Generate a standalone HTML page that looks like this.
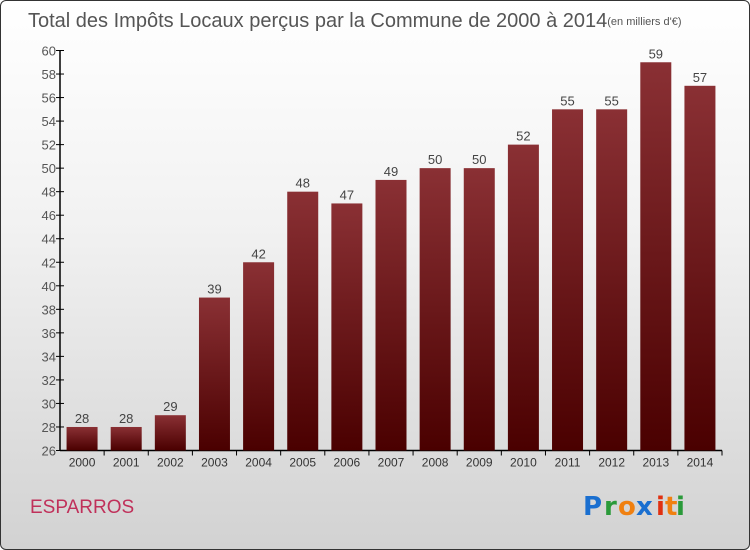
<!DOCTYPE html>
<html><head><meta charset="utf-8"><style>
html,body{margin:0;padding:0}
body{width:750px;height:550px;overflow:hidden;font-family:"Liberation Sans",sans-serif}
#frame{position:absolute;left:0;top:0;width:748px;height:548px;border:1px solid #333;border-radius:6px;background:linear-gradient(#ffffff 0%,#f2f2f2 40%,#d2d2d2 100%)}
</style></head><body>
<div id="frame">
<svg id="chart" width="750" height="550" style="position:absolute;left:-1px;top:-1px">
<defs><linearGradient id="bg" x1="0" y1="0" x2="0" y2="1"><stop offset="0" stop-color="#8a3034"/><stop offset="1" stop-color="#4a0000"/></linearGradient></defs>
<text x="28" y="27" font-size="20" fill="#555">Total des Impôts Locaux perçus par la Commune de 2000 à 2014<tspan font-size="11" dy="-2">(en milliers d'€)</tspan></text>
<text x="30" y="513" font-size="19" fill="#c0305a">ESPARROS</text>
<g font-size="26" font-family="'DejaVu Sans',sans-serif" font-weight="bold">
<text x="583" y="515" fill="#1a6fd0">P</text><text x="604" y="515" fill="#2a9a3a">r</text><text x="618" y="515" fill="#f08010">o</text><text x="636" y="515" fill="#1a6fd0">x</text><text x="656" y="515" fill="#e03010">i</text><text x="665" y="515" fill="#f08010">t</text><text x="676" y="515" fill="#2a9a3a">i</text>
</g>
<g id="axes"></g><g id="bars"></g>
</svg></div>
<script>
const years=["2000","2001","2002","2003","2004","2005","2006","2007","2008","2009","2010","2011","2012","2013","2014"];
const values=[28,28,29,39,42,48,47,49,50,50,52,55,55,59,57];
const yTicks=[26,28,30,32,34,36,38,40,42,44,46,48,50,52,54,56,58,60];
const NS="http://www.w3.org/2000/svg";
const yMin=26,yMax=60,plotTop=50.5,plotBot=450.5;
const yS=v=>plotBot-(v-yMin)*(plotBot-plotTop)/(yMax-yMin);
const x0=60,x1=722,step=(x1-x0)/years.length;
const xS=i=>x0+step*(i+0.5);
function mk(t,a,p){const e=document.createElementNS(NS,t);for(const k in a)e.setAttribute(k,a[k]);p.appendChild(e);return e;}
const ax=document.getElementById('axes'),bs=document.getElementById('bars');
const yl=mk('line',{x1:x0,x2:x0,y1:plotTop,y2:plotBot,stroke:'#000','stroke-width':1.5},ax);


const xl=mk('line',{x1:x0,x2:x1,y1:plotBot,y2:plotBot,stroke:'#000','stroke-width':1.5},ax);


yTicks.forEach(v=>{const y=yS(v);
mk('line',{x1:x0-4,x2:x0+4,y1:y,y2:y,stroke:'#000'},ax);
const t=mk('text',{x:x0-4,y:y+5,'text-anchor':'end','font-size':13,fill:'#555'},ax);t.textContent=v;

});
years.forEach((yr,i)=>{const cx=xS(i),v=values[i],w=31;
mk('line',{x1:x0+step*(i+1),x2:x0+step*(i+1),y1:plotBot,y2:plotBot+5,stroke:'#000'},ax);
const r=mk('rect',{x:cx-w/2,y:yS(v),width:w,height:plotBot-yS(v),fill:'url(#bg)'},bs);


const l=mk('text',{x:cx,y:yS(v)-4,'text-anchor':'middle','font-size':13,fill:'#444'},bs);l.textContent=v;


const t=mk('text',{x:cx,y:plotBot+16,'text-anchor':'middle','font-size':12,fill:'#333'},ax);t.textContent=yr;

});
</script>
</body></html>
